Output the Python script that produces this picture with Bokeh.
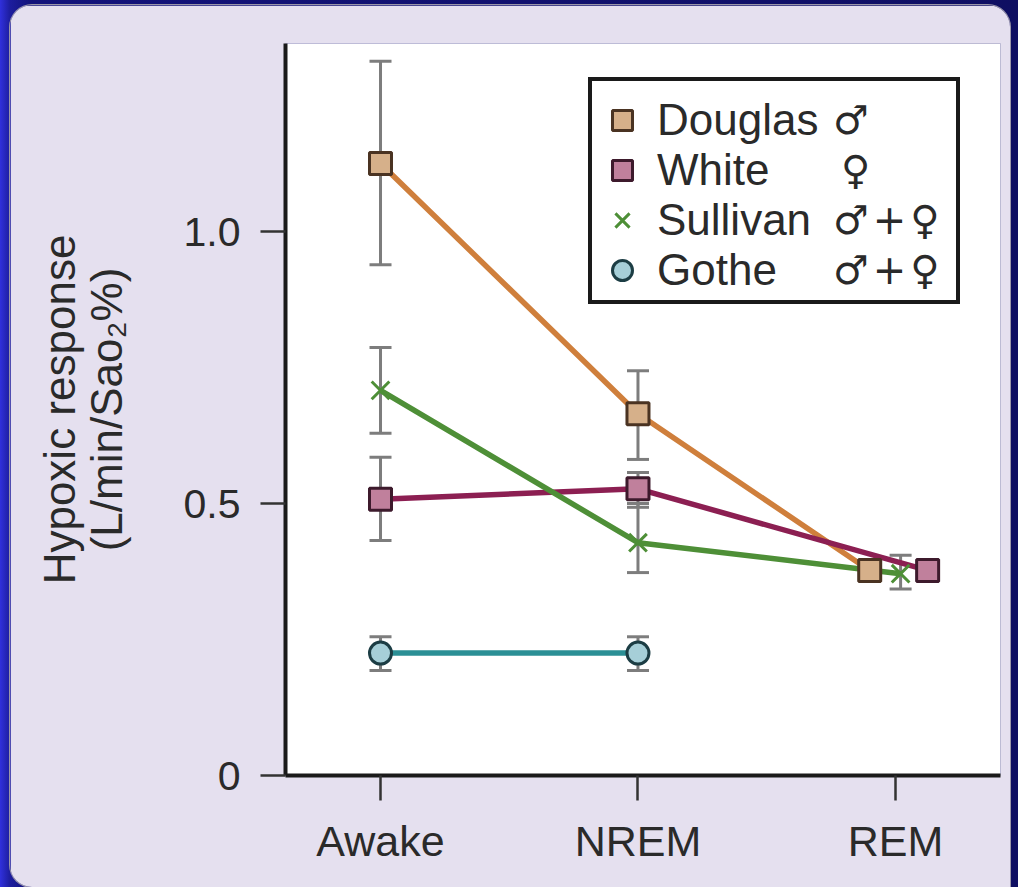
import math
from bokeh.plotting import figure
from bokeh.models import (ColumnDataSource, Whisker, TeeHead, Legend, LegendItem,
                          FixedTicker, Range1d)
from bokeh.embed import file_html
from bokeh.resources import INLINE

nan = float("nan")

# ---------------- data ----------------
stages = ["Awake", "NREM", "REM"]
y_ticks = [0, 0.5, 1.0]
y_tick_labels = ["0", "0.5", "1.0"]

series_names = ["Douglas", "White", "Sullivan", "Gothe"]
series_sex = ["\u2642", "\u2640", "\u2642+\u2640", "\u2642+\u2640"]

douglas_stages = ["Awake", "NREM", "REM"]
douglas_mean = [1.125, 0.665, 0.377]
douglas_upper = [1.313, 0.744, nan]
douglas_lower = [0.939, 0.581, nan]

white_stages = ["Awake", "NREM", "REM"]
white_mean = [0.508, 0.527, 0.377]
white_upper = [0.585, 0.557, nan]
white_lower = [0.432, 0.493, nan]

sullivan_stages = ["Awake", "NREM", "REM"]
sullivan_mean = [0.708, 0.428, 0.371]
sullivan_upper = [0.787, 0.500, 0.405]
sullivan_lower = [0.629, 0.373, 0.343]

gothe_stages = ["Awake", "NREM"]
gothe_mean = [0.225, 0.225]
gothe_upper = [0.255, 0.255]
gothe_lower = [0.193, 0.193]

# ---------------- styles ----------------
FONT = "Liberation Sans"
REM_DODGE = {"Douglas": -0.10, "White": 0.125, "Sullivan": 0.02, "Gothe": 0.0}
STYLE = {
    "Douglas": dict(line="#cf7f3c", marker="square", fill="#d6b08a", edge="#4a3322"),
    "White": dict(line="#8c1f52", marker="square", fill="#c0809c", edge="#3d1a2c"),
    "Sullivan": dict(line="#4e8f37", marker="x", fill="#4e8f37", edge="#4e8f37"),
    "Gothe": dict(line="#2b8f95", marker="circle", fill="#a6cfd8", edge="#1c3d44"),
}

p = figure(width=1000, height=882, output_backend="svg", toolbar_location=None,
           x_range=Range1d(-0.369, 2.408), y_range=Range1d(0, 1.3456),
           min_border_left=275, min_border_right=10, min_border_top=38,
           min_border_bottom=112)
p.background_fill_color = "white"
p.border_fill_color = "#e5e0ef"
p.outline_line_color = None
p.grid.visible = False
p.styles = {"border-radius": "22px 22px 0 22px", "overflow": "hidden",
            "box-shadow": "0 0 0 1px #9a96a8"}

# axes
p.xaxis.ticker = FixedTicker(ticks=list(range(len(stages))))
p.xaxis.major_label_overrides = {i: s for i, s in enumerate(stages)}
p.yaxis.ticker = FixedTicker(ticks=y_ticks)
p.yaxis.major_label_overrides = {t: l for t, l in zip(y_ticks, y_tick_labels)}
for ax in (p.xaxis, p.yaxis):
    ax.axis_line_width = 4
    ax.axis_line_color = "#1a1a1a"
    ax.major_tick_line_width = 2.5
    ax.major_tick_line_color = "#333333"
    ax.major_tick_in = 0
    ax.major_tick_out = 25
    ax.minor_tick_line_color = None
    ax.major_label_text_font = FONT
    ax.major_label_text_color = "#2a2a2a"
p.xaxis.major_label_text_font_size = "43px"
p.yaxis.major_label_text_font_size = "41px"
p.xaxis.major_label_standoff = 16
p.yaxis.major_label_standoff = 20
p.yaxis.axis_label = "Hypoxic response\n(L/min/Sao\u2082%)"
p.yaxis.axis_label_text_font = FONT
p.yaxis.axis_label_text_font_size = "44px"
p.yaxis.axis_label_text_font_style = "normal"
p.yaxis.axis_label_text_color = "#2a2a2a"
p.yaxis.axis_label_text_line_height = 0.95
p.yaxis.axis_label_standoff = 50

data = {
    "Douglas": (douglas_stages, douglas_mean, douglas_upper, douglas_lower),
    "White": (white_stages, white_mean, white_upper, white_lower),
    "Sullivan": (sullivan_stages, sullivan_mean, sullivan_upper, sullivan_lower),
    "Gothe": (gothe_stages, gothe_mean, gothe_upper, gothe_lower),
}

def xpos(name, st):
    i = stages.index(st)
    return i + (REM_DODGE[name] if st == "REM" else 0.0)

srcs = {}
for name in series_names:
    sts, m, u, l = data[name]
    xs = [xpos(name, s) for s in sts]
    srcs[name] = ColumnDataSource(dict(x=xs, y=m))
    keep = [k for k in range(len(xs)) if not math.isnan(u[k])]
    wsrc = ColumnDataSource(dict(x=[xs[k] for k in keep], upper=[u[k] for k in keep],
                                 lower=[l[k] for k in keep]))
    w = Whisker(base="x", upper="upper", lower="lower", source=wsrc,
                dimension="height", line_color="#7d7d7d", line_width=3,
                upper_head=TeeHead(size=22, line_color="#7d7d7d", line_width=3),
                lower_head=TeeHead(size=22, line_color="#7d7d7d", line_width=3))
    p.add_layout(w)

for name in series_names:
    st = STYLE[name]
    p.line("x", "y", source=srcs[name], line_color=st["line"], line_width=5.5)

name_items = []
sex_items = []
for name, sex in zip(series_names, series_sex):
    st = STYLE[name]
    if st["marker"] == "x":
        r = p.scatter("x", "y", source=srcs[name], marker="x", size=25,
                      line_color=st["edge"], line_width=3)
    else:
        r = p.scatter("x", "y", source=srcs[name], marker=st["marker"], size=22,
                      fill_color=st["fill"], line_color=st["edge"], line_width=3)
    name_items.append(LegendItem(label=name, renderers=[r]))
    sex_txt = sex.replace("+", "\u200a+\u200a")
    if sex == "\u2640":
        sex_txt = "\u2009" + sex_txt
    sex_items.append(LegendItem(label=sex_txt, renderers=[r]))

# invisible renderer, only used to give the legend frame its size
ghost = p.scatter(x=[], y=[], fill_alpha=0, line_alpha=0)

# legend frame (white box with black border)
frame_lg = Legend(items=[LegendItem(label="\u00a0", renderers=[ghost])],
                  location=(303, 471))
frame_lg.border_line_color = "#1a1a1a"
frame_lg.border_line_width = 4
frame_lg.border_line_alpha = 1
frame_lg.background_fill_color = "white"
frame_lg.background_fill_alpha = 1
frame_lg.padding = 0
frame_lg.margin = 0
frame_lg.spacing = 0
frame_lg.glyph_width = 344
frame_lg.glyph_height = 219
frame_lg.label_height = 219
frame_lg.label_standoff = 0
frame_lg.label_text_font_size = "8px"
frame_lg.label_text_line_height = 1.0
p.add_layout(frame_lg, "center")

def overlay(lg):
    lg.border_line_color = "white"
    lg.border_line_alpha = 0
    lg.border_line_width = 4
    lg.background_fill_alpha = 0
    lg.label_text_color = "#2a2a2a"
    lg.glyph_height = 50
    lg.label_height = 50
    lg.spacing = 0
    lg.margin = 0
    lg.padding = 11
    return lg

# markers + names
name_lg = overlay(Legend(items=name_items, location=(301, 469)))
name_lg.label_text_font = FONT
name_lg.label_text_font_size = "44px"
name_lg.glyph_width = 50
name_lg.label_standoff = 10
p.add_layout(name_lg, "center")

# sex symbols column
sex_lg = overlay(Legend(items=sex_items, location=(537, 469)))
sex_lg.label_text_font = "DejaVu Sans"
sex_lg.label_text_font_size = "40px"
sex_lg.glyph_width = 0
sex_lg.label_standoff = 0
p.add_layout(sex_lg, "center")

html = file_html(p, INLINE)
css = ("<style>html, body { background: linear-gradient(to right, #3030dc 0px, "
       "#1d1d9e 10px, #13137a 30px, #0f0f62 100%) !important; } "
       "body { padding: 5px 0 0 10px !important; }</style>")
html = html.replace("</head>", css + "</head>", 1)
open("out.html", "w").write(html)
